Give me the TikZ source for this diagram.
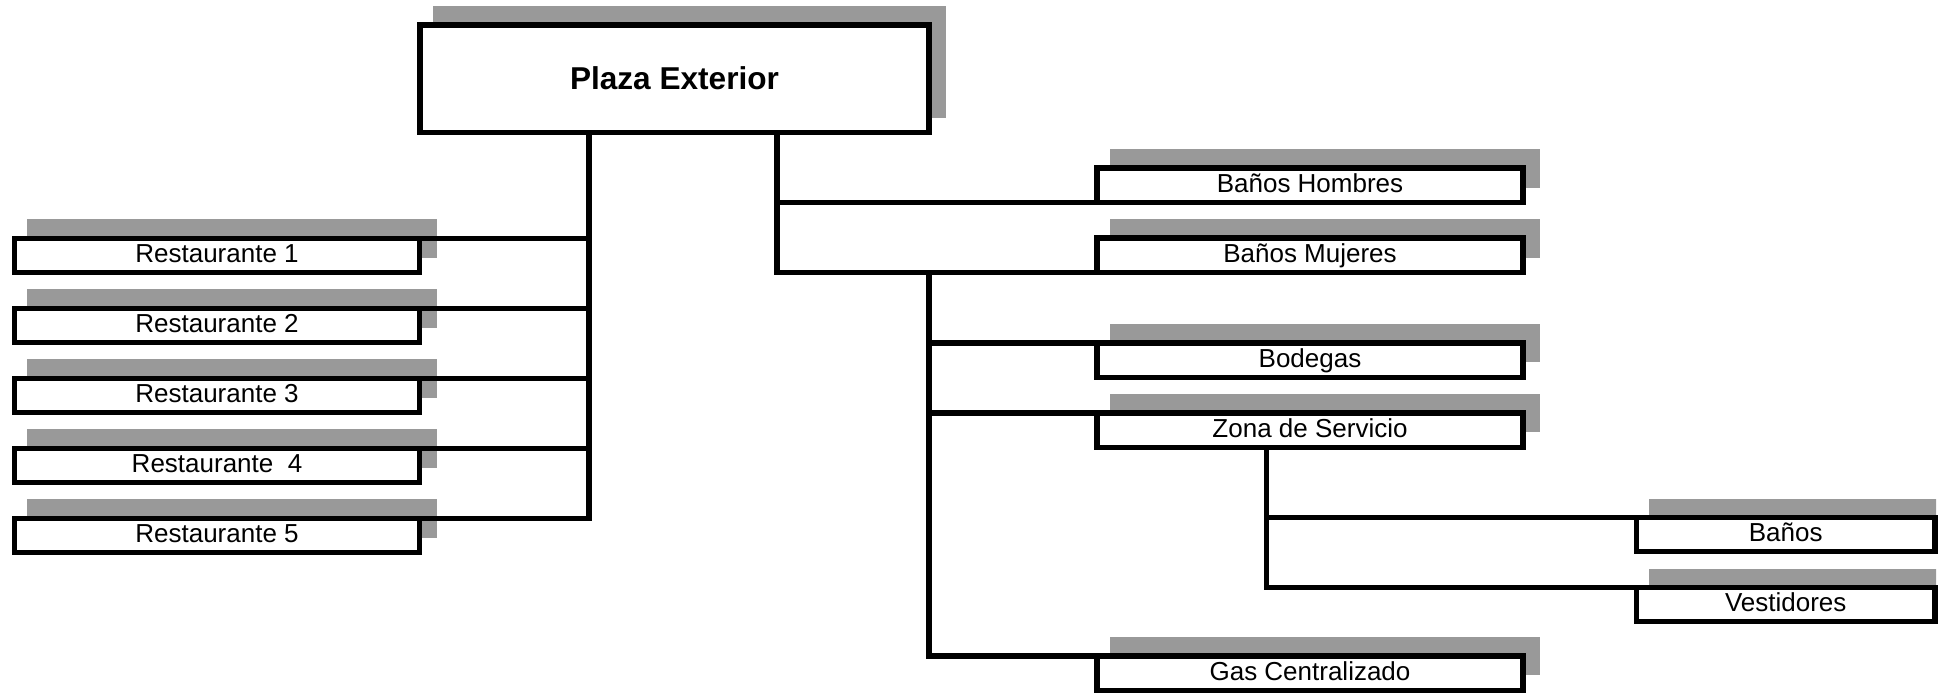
\documentclass[tikz,border=0pt]{standalone}
\usepackage{fontspec}
\setmainfont{Liberation Sans}
\usetikzlibrary{calc,backgrounds}
\definecolor{shadowgray}{HTML}{999999}
\tikzset{
  box/.style={draw=black, line width=2.75pt, fill=white, inner sep=0pt, outer sep=0pt,
    font=\fontsize{13}{15}\selectfont, text height=9.5pt, text depth=2.2pt},
  leftbox/.style={box, minimum width=202.7pt, minimum height=17.2pt},
  rightbox/.style={box, minimum width=213pt, minimum height=17.25pt},
  farbox/.style={box, minimum width=149.35pt, minimum height=16.9pt},
  conn/.style={draw=black, line width=2.75pt, line join=miter}
}
\newcommand\boxshadow[1]{\fill[shadowgray] ($(#1.north west)+(13,-19)$) rectangle ($(#1.south east)+(17,-15)$);}
\begin{document}
\begin{tikzpicture}[x=0.5pt,y=-0.5pt]
\useasboundingbox (0,0) rectangle (1947,693);
% boxes
\node[box, minimum width=254.5pt, minimum height=53.85pt, font=\fontsize{15.8}{18}\selectfont\bfseries, text height=11.5pt, text depth=1.3pt] (plaza) at (674.5,78.85) {Plaza Exterior};
\node[leftbox] (r1) at (217,255.5) {Restaurante 1};
\node[leftbox] (r2) at (217,325.5) {Restaurante 2};
\node[leftbox] (r3) at (217,395.5) {Restaurante 3};
\node[leftbox] (r4) at (217,465.5) {Restaurante\ \ 4};
\node[leftbox] (r5) at (217,535.5) {Restaurante 5};
\node[rightbox] (bh) at (1310,185.4) {Baños Hombres};
\node[rightbox] (bm) at (1310,255.4) {Baños Mujeres};
\node[rightbox] (bod) at (1310,360.2) {Bodegas};
\node[rightbox] (zona) at (1310,430) {Zona de Servicio};
\node[rightbox] (gas) at (1310,673.2) {Gas Centralizado};
\node[farbox] (ban) at (1785.7,534.4) {Baños};
\node[farbox] (ves) at (1785.7,604.4) {Vestidores};
% shadows
\begin{scope}[on background layer]
  \clip (0,0) rectangle (1936,693);
  \foreach \n in {plaza,r1,r2,r3,r4,r5,bh,bm,bod,zona,gas,ban,ves} {\boxshadow{\n}}
\end{scope}
% connectors
\coordinate (lv) at ($(plaza.south west)+(169,0)$);
\draw[conn] (lv) |- (r5.north east);
\foreach \n in {r1,r2,r3,r4} {\draw[conn] (lv |- \n.north east) -- (\n.north east);}
\coordinate (rv) at ($(plaza.south west)+(357,0)$);
\draw[conn] (rv) |- (bm.south west);
\draw[conn] (rv |- bh.south west) -- (bh.south west);
\coordinate (sv) at (plaza.south east |- bm.south west);
\draw[conn] (sv) |- (gas.north west);
\foreach \n in {bod,zona} {\draw[conn] (sv |- \n.north west) -- (\n.north west);}
\coordinate (zv) at ($(zona.south)+(-43.7,0)$);
\draw[conn] (zv) |- (ves.north west);
\draw[conn] (zv |- ban.north west) -- (ban.north west);
\end{tikzpicture}
\end{document}
